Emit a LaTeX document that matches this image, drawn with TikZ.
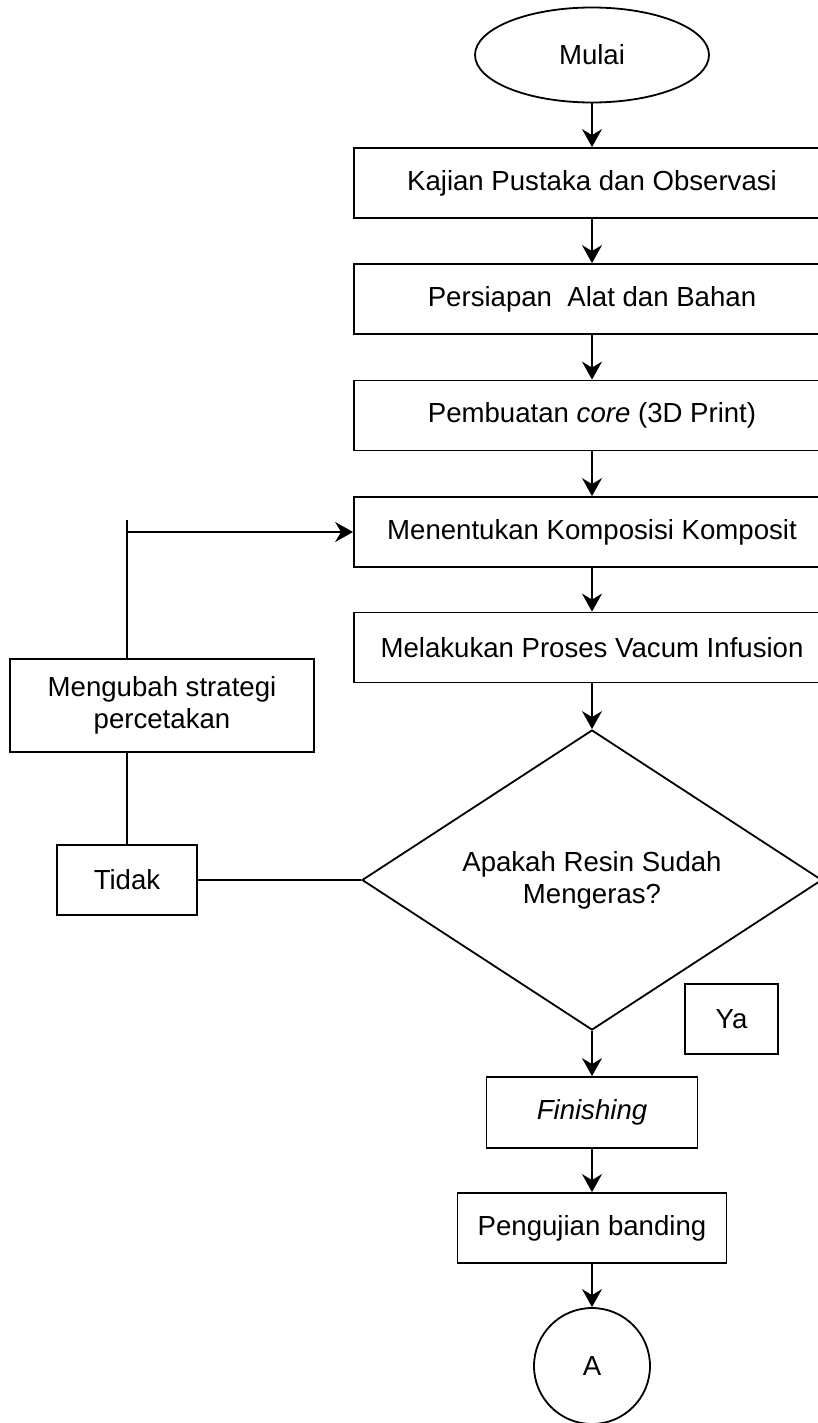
\documentclass[tikz,border=0pt]{standalone}
\usepackage{fontspec}
\setmainfont{Liberation Sans}
\usetikzlibrary{shapes, arrows.meta}

\begin{document}
\begin{tikzpicture}[x=0.5pt, y=-0.5pt]
	\tikzstyle{every node}=[font=\fontsize{13.8}{16}\selectfont, line width=0.9pt]
	\tikzstyle{kotak}=[draw, minimum width=238pt, minimum height=35pt]
	\tikzstyle{panah}=[line width=0.8pt, -{Stealth[length=9pt, width=10pt, inset=3pt]}]
	\clip (0,0) rectangle (818,1423); % the picture is cut at the right and at the bottom

	% main column
	\node[draw, ellipse,
	minimum width=117pt,
	minimum height=47.5pt] (mulai) at (592,55) {Mulai};
	\node[kotak] (kajian) at (592,183) {Kajian Pustaka dan Observasi};
	\node[kotak] (persiapan) at (592,299) {Persiapan\ \ Alat dan Bahan};
	\node[kotak] (core) at (592,415.5) {Pembuatan \textit{core} (3D Print)};
	\node[kotak] (komposisi) at (592,532) {Menentukan Komposisi Komposit};
	\node[kotak] (vacum) at (592,647.5) {Melakukan Proses Vacum Infusion};
	\node[draw, diamond, aspect=1.53, inner sep=0pt,
	minimum width=230pt,
	minimum height=150pt,
	align=center] (cek) at (592,880) {Apakah Resin Sudah\\Mengeras?};
	\node[draw, minimum width=105.5pt, minimum height=35.5pt] (finishing) at (592,1112.5) {\textit{Finishing}};
	\node[draw, minimum width=134.5pt, minimum height=35pt] (uji) at (592,1228) {Pengujian banding};
	\node[draw, circle, minimum size=58pt] (a) at (592,1366) {A};

	% side boxes
	\node[draw, align=center, minimum width=152pt, minimum height=46.5pt] (ubah) at (162,705.5) {Mengubah strategi\\percetakan};
	\node[draw, minimum width=70pt, minimum height=35pt] (tidak) at (127,880) {Tidak};
	\node[draw, minimum width=46.5pt, minimum height=35pt] (ya) at (731.5,1019) {Ya};
	\coordinate (ujung) at (127,520);

	% arrows down
	\draw[panah] (mulai) -- (kajian);
	\draw[panah] (kajian) -- (persiapan);
	\draw[panah] (persiapan) -- (core);
	\draw[panah] (core) -- (komposisi);
	\draw[panah] (komposisi) -- (vacum);
	\draw[panah] (vacum) -- (cek);
	\draw[panah] (cek) -- (finishing);
	\draw[panah] (finishing) -- (uji);
	\draw[panah] (uji) -- (a);

	% loop back
	\draw[line width=0.9pt] (cek.west) -- (tidak.east);
	\draw[line width=0.9pt] (tidak.north) -- (tidak.north |- ubah.south);
	\draw[line width=0.9pt] (tidak.north |- ubah.north) -- (ujung);
	\draw[panah] (ujung |- komposisi.west) -- (komposisi.west);
\end{tikzpicture}
\end{document}
